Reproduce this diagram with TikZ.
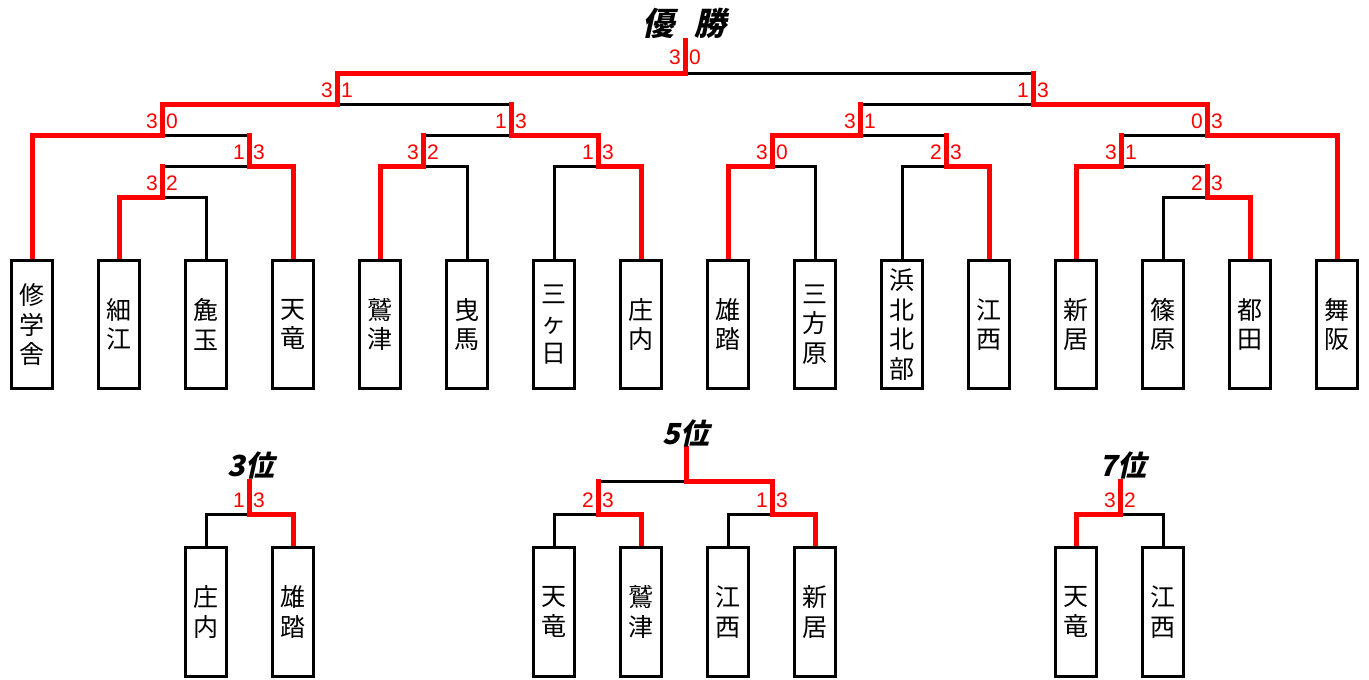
\documentclass[tikz,border=0pt]{standalone}
\usepackage{fontspec}
\newfontfamily\cjk{Noto Sans CJK JP}
\newfontfamily\cjkti{Noto Sans CJK JP}[FakeSlant=0.22]
\newfontfamily\scorefont{Liberation Sans}
\usetikzlibrary{calc}
\pgfdeclarelayer{bg}
\pgfsetlayers{bg,main}
\newcommand\myscore[3]{%
  \node[sc,anchor=east] (#1l) at ([xshift=-4pt,yshift=14pt]#1) {#2};
  \node[sc,anchor=west] (#1r) at ([xshift=4pt,yshift=14pt]#1) {#3};}
\begin{document}
\begin{tikzpicture}[x=1pt,y=-1pt,
  team/.style={draw=black, line width=3pt, fill=white, minimum width=41pt,
    minimum height=128pt, inner sep=0pt, align=center,
    font=\cjk\fontsize{25}{29.5}\selectfont},
  teamb/.style={team, minimum height=129pt},
  bl/.style={draw=black, line width=3pt},
  rd/.style={draw=red, line width=5pt, line cap=rect},
  sc/.style={text=red, font=\scorefont\fontsize{21}{21}\selectfont, inner sep=0pt},
  ttl/.style={font=\cjkti\bfseries\fontsize{32}{32}\selectfont, inner sep=0pt},
  ttls/.style={font=\cjkti\bfseries\fontsize{29}{29}\selectfont, inner sep=0pt}]
\useasboundingbox (0,0) rectangle (1369,680);

% ---------- teams (top) ----------
\node[team] (t1)  at (32,324.5)   {修\\学\\舎};
\node[team] (t2)  at (119,324.5)  {細\\江};
\node[team] (t3)  at (206,324.5)  {麁\\玉};
\node[team] (t4)  at (293,324.5)  {天\\竜};
\node[team] (t5)  at (380,324.5)  {鷲\\津};
\node[team] (t6)  at (467,324.5)  {曳\\馬};
\node[team] (t7)  at (554,324.5)  {三\\ヶ\\日};
\node[team] (t8)  at (641,324.5)  {庄\\内};
\node[team] (t9)  at (728,324.5)  {雄\\踏};
\node[team] (t10) at (815,324.5)  {三\\方\\原};
\node[team] (t11) at (902,324.5)  {浜\\北\\北\\部};
\node[team] (t12) at (989,324.5)  {江\\西};
\node[team] (t13) at (1076,324.5) {新\\居};
\node[team] (t14) at (1163,324.5) {篠\\原};
\node[team] (t15) at (1250,324.5) {都\\田};
\node[team] (t16) at (1337,324.5) {舞\\阪};

% ---------- match points (top) ----------
\coordinate (mA) at (162,197);
\coordinate (mB) at (249,166);
\coordinate (mC) at (162,135);
\coordinate (mD) at (423,166);
\coordinate (mE) at (598,166);
\coordinate (mF) at (511,135);
\coordinate (mG) at (337,104);
\coordinate (mH) at (772,166);
\coordinate (mI) at (946,166);
\coordinate (mJ) at (860,135);
\coordinate (mK) at (1207,197);
\coordinate (mL) at (1121,166);
\coordinate (mM) at (1207,135);
\coordinate (mN) at (1033,104);
\coordinate (mX) at (685,73);
\coordinate (topW) at (685,40);

% ---------- teams (bottom) ----------
\node[teamb] (b1) at (206,612)  {庄\\内};
\node[teamb] (b2) at (293,612)  {雄\\踏};
\node[teamb] (b3) at (554,612)  {天\\竜};
\node[teamb] (b4) at (641,612)  {鷲\\津};
\node[teamb] (b5) at (728,612)  {江\\西};
\node[teamb] (b6) at (815,612)  {新\\居};
\node[teamb] (b7) at (1076,612) {天\\竜};
\node[teamb] (b8) at (1163,612) {江\\西};

\coordinate (mP)  at (249,514);
\coordinate (topP) at (249,481);
\coordinate (mQ1) at (598,514);
\coordinate (mQ2) at (772,514);
\coordinate (mQ)  at (686,481);
\coordinate (topQ) at (686,448);
\coordinate (mR)  at (1120,514);
\coordinate (topR) at (1120,481);

\begin{pgfonlayer}{bg}
% black bracket
\draw[bl] (t2.north) |- (mA);  \draw[bl] (t3.north) |- (mA);
\draw[bl] (mA) |- (mB);        \draw[bl] (t4.north) |- (mB);
\draw[bl] (t1.north) |- (mC);  \draw[bl] (mB) |- (mC);
\draw[bl] (t5.north) |- (mD);  \draw[bl] (t6.north) |- (mD);
\draw[bl] (t7.north) |- (mE);  \draw[bl] (t8.north) |- (mE);
\draw[bl] (mD) |- (mF);        \draw[bl] (mE) |- (mF);
\draw[bl] (mC) |- (mG);        \draw[bl] (mF) |- (mG);
\draw[bl] (t9.north) |- (mH);  \draw[bl] (t10.north) |- (mH);
\draw[bl] (t11.north) |- (mI); \draw[bl] (t12.north) |- (mI);
\draw[bl] (mH) |- (mJ);        \draw[bl] (mI) |- (mJ);
\draw[bl] (t14.north) |- (mK); \draw[bl] (t15.north) |- (mK);
\draw[bl] (t13.north) |- (mL); \draw[bl] (mK) |- (mL);
\draw[bl] (mL) |- (mM);        \draw[bl] (t16.north) |- (mM);
\draw[bl] (mJ) |- (mN);        \draw[bl] (mM) |- (mN);
\draw[bl] (mG) |- (mX);        \draw[bl] (mN) |- (mX);
\draw[bl] (b1.north) |- (mP);  \draw[bl] (b2.north) |- (mP);
\draw[bl] (b3.north) |- (mQ1); \draw[bl] (b4.north) |- (mQ1);
\draw[bl] (b5.north) |- (mQ2); \draw[bl] (b6.north) |- (mQ2);
\draw[bl] (mQ1) |- (mQ);       \draw[bl] (mQ2) |- (mQ);
\draw[bl] (b7.north) |- (mR);  \draw[bl] (b8.north) |- (mR);

% red winner paths
\draw[rd] (t2.north) |- (mA) -- (mA |- mB);
\draw[rd] (t4.north) |- (mB) -- (mB |- mC);
\draw[rd] (t1.north) |- (mC) -- (mC |- mG);
\draw[rd] (t5.north) |- (mD) -- (mD |- mF);
\draw[rd] (t8.north) |- (mE) -- (mE |- mF);
\draw[rd] (mE) |- (mF) -- (mF |- mG);
\draw[rd] (mC) |- (mG) -- (mG |- mX);
\draw[rd] (t9.north) |- (mH) -- (mH |- mJ);
\draw[rd] (t12.north) |- (mI) -- (mI |- mJ);
\draw[rd] (mH) |- (mJ) -- (mJ |- mN);
\draw[rd] (t15.north) |- (mK) -- (mK |- mL);
\draw[rd] (t13.north) |- (mL) -- (mL |- mM);
\draw[rd] (t16.north) |- (mM) -- (mM |- mN);
\draw[rd] (mM) |- (mN) -- (mN |- mX);
\draw[rd] (mG) |- (mX) -- (topW);
\draw[rd] (b2.north) |- (mP) -- (topP);
\draw[rd] (b4.north) |- (mQ1) -- (mQ1 |- mQ);
\draw[rd] (b6.north) |- (mQ2) -- (mQ2 |- mQ);
\draw[rd] (mQ2) |- (mQ) -- (topQ);
\draw[rd] (b7.north) |- (mR) -- (topR);
\end{pgfonlayer}

% scores
\myscore{mA}{3}{2}
\myscore{mB}{1}{3}
\myscore{mC}{3}{0}
\myscore{mD}{3}{2}
\myscore{mE}{1}{3}
\myscore{mF}{1}{3}
\myscore{mG}{3}{1}
\myscore{mH}{3}{0}
\myscore{mI}{2}{3}
\myscore{mJ}{3}{1}
\myscore{mK}{2}{3}
\myscore{mL}{3}{1}
\myscore{mM}{0}{3}
\myscore{mN}{1}{3}
\node[sc,anchor=east] (mXl) at ([xshift=-4pt,yshift=15.5pt]mX) {3};
\node[sc,anchor=west] (mXr) at ([xshift=4pt,yshift=15.5pt]mX) {0};
\myscore{mP}{1}{3}
\myscore{mQ1}{2}{3}
\myscore{mQ2}{1}{3}
\myscore{mR}{3}{2}

% titles
\node[ttl]  (ttlW) at (684,23)  {優\hspace{20pt}勝};
\node[ttls] (ttl3) at (251,465) {3位};
\node[ttls] (ttl5) at (686,433) {5位};
\node[ttls] (ttl7) at (1123,465) {7位};
\end{tikzpicture}
\end{document}
